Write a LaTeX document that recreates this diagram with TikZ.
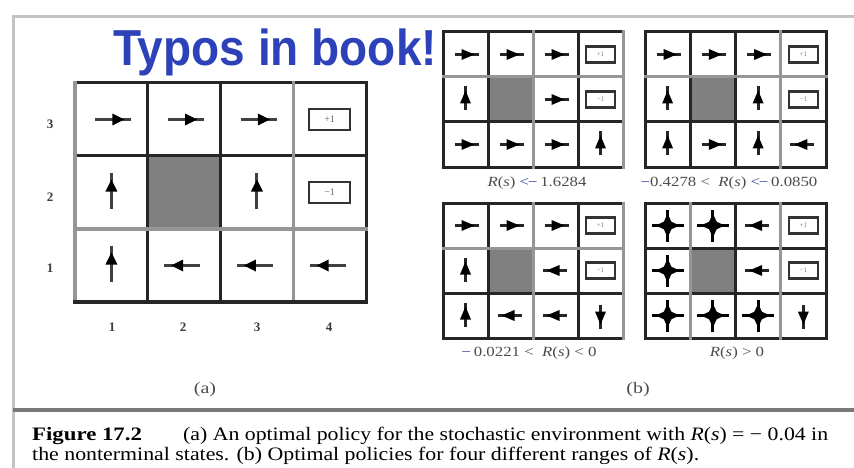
\documentclass[tikz,border=0pt]{standalone}
\usepackage{fontspec}
\setmainfont{Liberation Serif}
\newfontfamily\titlefont{Liberation Sans}
\definecolor{titleblue}{RGB}{45,65,185}
\definecolor{markblue}{RGB}{40,60,160}
\definecolor{wallgray}{RGB}{128,128,128}
\definecolor{framegray}{RGB}{195,195,195}
\definecolor{sepgray}{RGB}{120,120,120}
\definecolor{softgray}{RGB}{150,150,150}
\definecolor{labgray}{RGB}{60,60,60}
\tikzset{
  gridln/.style={draw=black!85, line cap=rect},
  softln/.style={draw=softgray, line cap=rect},
  pointR/.style={rotate=0},
  pointU/.style={rotate=90},
  pointL/.style={rotate=180},
  pointD/.style={rotate=270},
  pics/bigarr/.style={code={
    \draw[line width=2.8pt, draw=black!75] (-16pt,0pt) -- (20pt,0pt);
    \fill[black] (13pt,0pt) -- (1pt,6pt) -- (1pt,-6pt) -- cycle;
  }},
  pics/smallarr/.style={code={
    \draw[line width=3.2pt, draw=black!85] (-11pt,0pt) -- (13pt,0pt);
    \fill[black] (9pt,0pt) -- (-4pt,5.5pt) -- (-4pt,-5.5pt) -- cycle;
  }},
  pics/anyarr/.style={code={
    \draw[line width=2.8pt, draw=black] (-16pt,0pt) -- (16pt,0pt) (0pt,-16pt) -- (0pt,16pt);
    \foreach \a in {0,90,180,270}{\fill[black, rotate=\a] (12pt,0pt) -- (1pt,5pt) -- (1pt,-5pt) -- cycle;}
  }},
  termA/.style={draw=black!80, line width=2.4pt, fill=white, minimum width=41pt, minimum height=21pt,
    inner sep=0pt, text=black!60, font=\fontsize{10}{10}\selectfont},
  termB/.style={draw=black!80, line width=2.4pt, fill=white, minimum width=29pt, minimum height=16pt,
    inner sep=0pt, text=black!50, font=\fontsize{7}{7}\selectfont},
  numlab/.style={text=labgray, font=\bfseries\fontsize{13}{13}\selectfont, inner sep=0pt},
  rlab/.style={text=black!70, font=\fontsize{14}{14}\selectfont, inner sep=0pt},
  caption/.style={anchor=base west, inner sep=0pt, font=\fontsize{19}{19}\selectfont},
}
\newcommand\mdpgrid[2]{%
  \fill[wallgray] (1,1) rectangle (2,2);
  \draw[gridln, line width=#2] (0,0) rectangle (4,3) (1,0) -- (1,3) (2,0) -- (2,3) (3,0) -- (3,3)
    (0,1) -- (4,1) (0,2) -- (4,2);
  \foreach \c in {1,...,4}{\foreach \r in {1,2,3}{\coordinate (#1-\c-\r) at (\c-0.5,3.5-\r);}}
}
\newcommand\blue[1]{\textcolor{markblue}{#1}}
\begin{document}
\begin{tikzpicture}[x=1pt,y=-1pt]
\useasboundingbox (0,0) rectangle (854,468);
\fill[white] (0,0) rectangle (854,468);
% frame and separator
\draw[framegray, line width=3pt] (13,468) -- (13,17) -- (854,17);
\draw[sepgray, line width=4pt] (13,409.5) -- (854,409.5);
% title
\node[anchor=base west, inner sep=0pt, text=titleblue, font=\titlefont\bfseries\fontsize{46}{46}\selectfont]
  (title) at (113,66) {\scalebox{1}[1.1]{Typos in book!}};

% ---------- grid (a)
\begin{scope}[shift={(75,83)}, x=72.75pt, y=-73pt]
  \mdpgrid{a}{3pt}
  \draw[softln, line width=3.5pt] (0,0) -- (0,3) (3,0) -- (3,3);
  \draw[softln, line width=4.5pt] (0,2) -- (4,2);
  \draw[gridln, line width=3.5pt] (0,3) -- (4,3);
\end{scope}
\pic[pointR] at (a-1-3) {bigarr};
\pic[pointR] at (a-2-3) {bigarr};
\pic[pointR] at (a-3-3) {bigarr};
\pic[pointU] at (a-1-2) {bigarr};
\pic[pointU] at (a-3-2) {bigarr};
\pic[pointU] at (a-1-1) {bigarr};
\pic[pointL] at (a-2-1) {bigarr};
\pic[pointL] at (a-3-1) {bigarr};
\pic[pointL] at (a-4-1) {bigarr};
\node[termA] (a-plus) at (a-4-3) {+1};
\node[termA] (a-minus) at (a-4-2) {−1};
\node[numlab] (r3) at (50,124) {3};
\node[numlab] (r2) at (50,197) {2};
\node[numlab] (r1) at (50,268) {1};
\node[numlab] (c1) at (112,327) {1};
\node[numlab] (c2) at (183,327) {2};
\node[numlab] (c3) at (257,327) {3};
\node[numlab] (c4) at (329,327) {4};
\node[rlab, font=\fontsize{16}{16}\selectfont] (lab-a) at (205,390) {\scalebox{1.25}[1]{(a)}};

% ---------- grid (b1) top left
\begin{scope}[shift={(443,32)}, x=45pt, y=-45pt]
  \mdpgrid{b1}{3pt}
  \draw[softln, line width=3pt] (2,0) -- (2,3) (4,0) -- (4,3) (0,1) -- (4,1);
\end{scope}
\pic[pointR] at (b1-1-3) {smallarr};
\pic[pointR] at (b1-2-3) {smallarr};
\pic[pointR] at (b1-3-3) {smallarr};
\pic[pointU] at (b1-1-2) {smallarr};
\pic[pointR] at (b1-3-2) {smallarr};
\pic[pointR] at (b1-1-1) {smallarr};
\pic[pointR] at (b1-2-1) {smallarr};
\pic[pointR] at (b1-3-1) {smallarr};
\pic[pointU] at (b1-4-1) {smallarr};
\node[termB] (b1-plus) at (b1-4-3) {+1};
\node[termB] (b1-minus) at (b1-4-2) {−1};

% ---------- grid (b2) top right
\begin{scope}[shift={(645,32)}, x=45.25pt, y=-45pt]
  \mdpgrid{b2}{3pt}
  \draw[softln, line width=3pt] (3,0) -- (3,3) (0,1) -- (4,1);
\end{scope}
\pic[pointR] at (b2-1-3) {smallarr};
\pic[pointR] at (b2-2-3) {smallarr};
\pic[pointR] at (b2-3-3) {smallarr};
\pic[pointU] at (b2-1-2) {smallarr};
\pic[pointU] at (b2-3-2) {smallarr};
\pic[pointU] at (b2-1-1) {smallarr};
\pic[pointR] at (b2-2-1) {smallarr};
\pic[pointU] at (b2-3-1) {smallarr};
\pic[pointL] at (b2-4-1) {smallarr};
\node[termB] (b2-plus) at (b2-4-3) {+1};
\node[termB] (b2-minus) at (b2-4-2) {−1};

% ---------- grid (b3) bottom left
\begin{scope}[shift={(443,203)}, x=45pt, y=-45pt]
  \mdpgrid{b3}{3pt}
  \draw[softln, line width=3pt] (2,0) -- (2,3) (4,0) -- (4,3) (0,1) -- (4,1);
\end{scope}
\pic[pointR] at (b3-1-3) {smallarr};
\pic[pointR] at (b3-2-3) {smallarr};
\pic[pointR] at (b3-3-3) {smallarr};
\pic[pointU] at (b3-1-2) {smallarr};
\pic[pointL] at (b3-3-2) {smallarr};
\pic[pointU] at (b3-1-1) {smallarr};
\pic[pointL] at (b3-2-1) {smallarr};
\pic[pointL] at (b3-3-1) {smallarr};
\pic[pointD] at (b3-4-1) {smallarr};
\node[termB] (b3-plus) at (b3-4-3) {+1};
\node[termB] (b3-minus) at (b3-4-2) {−1};

% ---------- grid (b4) bottom right
\begin{scope}[shift={(645,203)}, x=45.25pt, y=-45pt]
  \mdpgrid{b4}{3pt}
  \draw[softln, line width=3pt] (1,0) -- (1,3) (3,0) -- (3,3);
\end{scope}
\pic at (b4-1-3) {anyarr};
\pic at (b4-2-3) {anyarr};
\pic[pointL] at (b4-3-3) {smallarr};
\pic at (b4-1-2) {anyarr};
\pic[pointL] at (b4-3-2) {smallarr};
\pic at (b4-1-1) {anyarr};
\pic at (b4-2-1) {anyarr};
\pic at (b4-3-1) {anyarr};
\pic[pointD] at (b4-4-1) {smallarr};
\node[termB] (b4-plus) at (b4-4-3) {+1};
\node[termB] (b4-minus) at (b4-4-2) {−1};

% ---------- range labels
\node[rlab] (lab1) at (537,183) {\scalebox{1.2}[1]{\textit{R}(\textit{s})\ \blue{<\kern-1pt−}\,1.6284}};
\node[rlab] (lab2) at (729,183) {\scalebox{1.2}[1]{\blue{−}0.4278 <\ \ \textit{R}(\textit{s})\ \blue{<\kern-1pt−}\,0.0850}};
\node[rlab] (lab3) at (529,353) {\scalebox{1.2}[1]{\blue{−}\,0.0221 <\ \ \textit{R}(\textit{s}) < 0}};
\node[rlab] (lab4) at (737,353) {\scalebox{1.2}[1]{\textit{R}(\textit{s}) > 0}};
\node[rlab, font=\fontsize{16}{16}\selectfont] (lab-b) at (638,390) {\scalebox{1.25}[1]{(b)}};

% ---------- caption
\node[caption, font=\bfseries\fontsize{19}{19}\selectfont] (capfig) at (32,440) {\scalebox{1.2}[1]{Figure 17.2}};
\node[caption] (cap1) at (183,440) {\scalebox{1.146}[1]{(a) An optimal policy for the stochastic environment with \textit{R}(\textit{s}) = − 0.04 in}};
\node[caption] (cap2) at (32,460) {\scalebox{1.15}[1]{the nonterminal states. (b) Optimal policies for four different ranges of \textit{R}(\textit{s}).}};
\end{tikzpicture}
\end{document}
